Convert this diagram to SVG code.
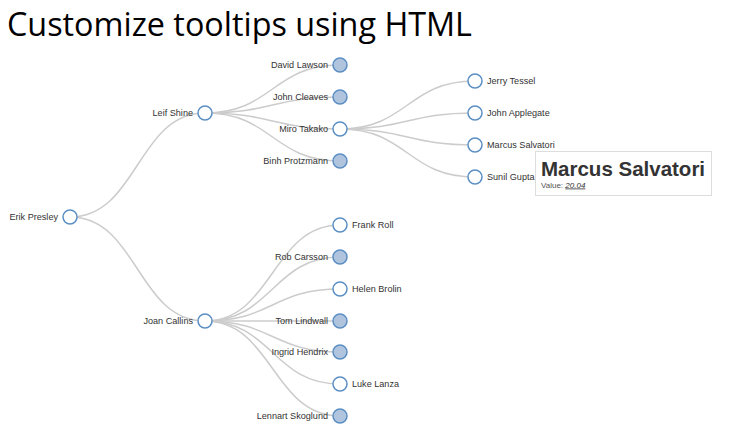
<svg xmlns="http://www.w3.org/2000/svg" width="734" height="446" viewBox="0 0 734 446">
<style>
.link{fill:none;stroke:#ccc;stroke-width:1.5}
.node circle{fill:#fff;stroke:#5b8fc4;stroke-width:1.5}
.node.collapsed circle{fill:#b0c4de}
.node text{font-family:"Liberation Sans",Arial,sans-serif;font-size:9.1px;fill:#333}
.l text{text-anchor:end}
.title{font-family:"Open Sans","Noto Sans",sans-serif;font-size:32px;fill:#000}
.tip-h{font-family:"Liberation Sans",Arial,sans-serif;font-weight:bold;font-size:20.5px;fill:#333}
.tip-v{font-family:"Liberation Sans",Arial,sans-serif;font-size:8px;fill:#555}
</style>
<rect width="734" height="446" fill="#fff"/>
<text class="title" x="7" y="36" textLength="465" lengthAdjust="spacingAndGlyphs">Customize tooltips using HTML</text>
<g id="links">
<path class="link" d="M70,217C137.5,217 137.5,113 205,113"/>
<path class="link" d="M70,217C137.5,217 137.5,321 205,321"/>
<path class="link" d="M205,113C272.5,113 272.5,65 340,65"/>
<path class="link" d="M205,113C272.5,113 272.5,97 340,97"/>
<path class="link" d="M205,113C272.5,113 272.5,129 340,129"/>
<path class="link" d="M205,113C272.5,113 272.5,161 340,161"/>
<path class="link" d="M340,129C407.5,129 407.5,81 475,81"/>
<path class="link" d="M340,129C407.5,129 407.5,113 475,113"/>
<path class="link" d="M340,129C407.5,129 407.5,145 475,145"/>
<path class="link" d="M340,129C407.5,129 407.5,177 475,177"/>
<path class="link" d="M205,321C272.5,321 272.5,225 340,225"/>
<path class="link" d="M205,321C272.5,321 272.5,257 340,257"/>
<path class="link" d="M205,321C272.5,321 272.5,289 340,289"/>
<path class="link" d="M205,321C272.5,321 272.5,321 340,321"/>
<path class="link" d="M205,321C272.5,321 272.5,352 340,352"/>
<path class="link" d="M205,321C272.5,321 272.5,384 340,384"/>
<path class="link" d="M205,321C272.5,321 272.5,416 340,416"/>
</g>
<g id="erik-presley" class="node l" transform="translate(70,217)"><circle r="7"/><text x="-12" y="3">Erik Presley</text></g>
<g id="leif-shine" class="node l" transform="translate(205,113)"><circle r="7"/><text x="-12" y="3">Leif Shine</text></g>
<g id="joan-callins" class="node l" transform="translate(205,321)"><circle r="7"/><text x="-12" y="3">Joan Callins</text></g>
<g id="david-lawson" class="node l collapsed" transform="translate(340,65)"><circle r="7"/><text x="-12" y="3">David Lawson</text></g>
<g id="john-cleaves" class="node l collapsed" transform="translate(340,97)"><circle r="7"/><text x="-12" y="3">John Cleaves</text></g>
<g id="miro-takako" class="node l" transform="translate(340,129)"><circle r="7"/><text x="-12" y="3">Miro Takako</text></g>
<g id="binh-protzmann" class="node l collapsed" transform="translate(340,161)"><circle r="7"/><text x="-12" y="3">Binh Protzmann</text></g>
<g id="jerry-tessel" class="node" transform="translate(475,81)"><circle r="7"/><text x="12" y="3">Jerry Tessel</text></g>
<g id="john-applegate" class="node" transform="translate(475,113)"><circle r="7"/><text x="12" y="3">John Applegate</text></g>
<g id="marcus-salvatori" class="node" transform="translate(475,145)"><circle r="7"/><text x="12" y="3">Marcus Salvatori</text></g>
<g id="sunil-gupta" class="node" transform="translate(475,177)"><circle r="7"/><text x="12" y="3">Sunil Gupta</text></g>
<g id="frank-roll" class="node" transform="translate(340,225)"><circle r="7"/><text x="12" y="3">Frank Roll</text></g>
<g id="rob-carsson" class="node l collapsed" transform="translate(340,257)"><circle r="7"/><text x="-12" y="3">Rob Carsson</text></g>
<g id="helen-brolin" class="node" transform="translate(340,289)"><circle r="7"/><text x="12" y="3">Helen Brolin</text></g>
<g id="tom-lindwall" class="node l collapsed" transform="translate(340,321)"><circle r="7"/><text x="-12" y="3">Tom Lindwall</text></g>
<g id="ingrid-hendrix" class="node l collapsed" transform="translate(340,352)"><circle r="7"/><text x="-12" y="3">Ingrid Hendrix</text></g>
<g id="luke-lanza" class="node" transform="translate(340,384)"><circle r="7"/><text x="12" y="3">Luke Lanza</text></g>
<g id="lennart-skoglund" class="node l collapsed" transform="translate(340,416)"><circle r="7"/><text x="-12" y="3">Lennart Skoglund</text></g>
<g id="tooltip">
<rect x="535.5" y="151.5" width="176" height="44" fill="#fff" stroke="#ddd" stroke-width="1"/>
<text class="tip-h" x="541" y="175.5">Marcus Salvatori</text>
<text class="tip-v" x="541" y="187.5">Value: <tspan font-style="italic" text-decoration="underline" fill="#333">20.04</tspan></text>
</g>
</svg>
